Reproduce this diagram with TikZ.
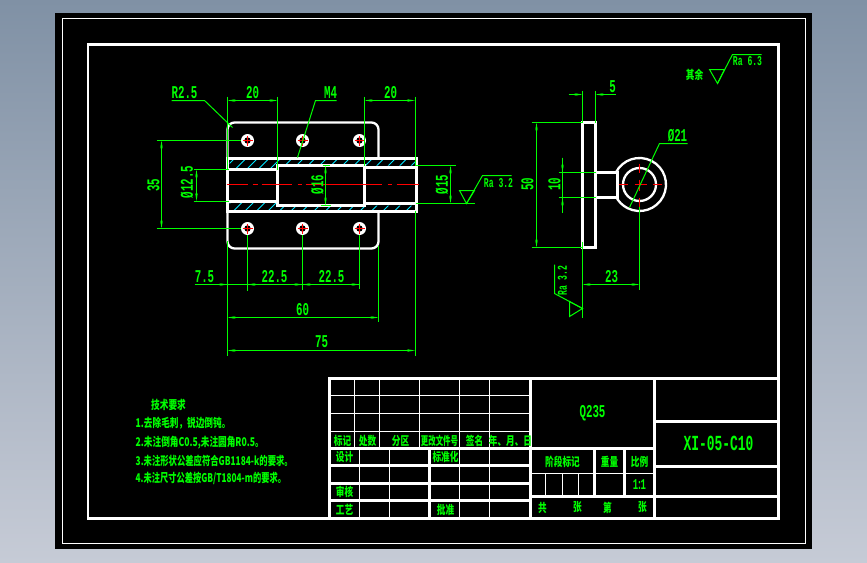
\documentclass[tikz,border=0pt]{standalone}
\usepackage{fontspec}
\usetikzlibrary{arrows.meta}
\newfontfamily\cadfont[FakeStretch=0.6]{Liberation Mono}
\newfontfamily\cjkfont[FakeStretch=0.72]{Noto Sans CJK SC}
\definecolor{cadgreen}{RGB}{0,255,0}
\definecolor{cadcyan}{RGB}{0,230,255}
\definecolor{cadred}{RGB}{255,0,0}
\tikzset{
    partline/.style={draw=white,line width=2.3pt},
    frameline/.style={draw=white,line width=2.8pt},
    thinline/.style={draw=white,line width=1pt},
    dimline/.style={draw=cadgreen,line width=1pt},
    centerline/.style={draw=cadred,line width=1pt},
    hatchline/.style={draw=cadcyan,line width=.8pt},
    dimtext/.style={text=cadgreen,inner sep=0pt,font=\cadfont\bfseries\fontsize{18}{20}\selectfont},
    smalltext/.style={text=cadgreen,inner sep=0pt,font=\cadfont\bfseries\fontsize{13.5}{15}\selectfont},
    cjktext/.style={text=cadgreen,inner sep=0pt,font=\cjkfont\bfseries\fontsize{12}{14}\selectfont},
    notetext/.style={cjktext,anchor=west},
}
\begin{document}
\begin{tikzpicture}[x=1pt,y=-1pt,shift={(.5,.5)},>={Stealth[length=8pt,width=2.6pt]}]
    \useasboundingbox (-.5,-.5) rectangle (866.5,561.5);
    \shade[top color={rgb,255:red,128;green,145;blue,165},bottom color={rgb,255:red,198;green,203;blue,214}] (-.5,-.5) rectangle (866.5,561.5);
    \fill[black] (54.5,12.5) rectangle (811.5,548.5);
    \draw[thinline] (62,18) rectangle (805,543);
    \draw[frameline] (87.5,44) rectangle (778,518);

    \begin{scope}
        \clip (229,159.5) rectangle (415,165) (229,165) rectangle (276,168) (229,202) rectangle (276,209.5) (276,205) rectangle (415,209.5);
        \foreach \x in {222,233.5,...,420}{
            \draw[hatchline] (\x,170)--(\x+11,159);
            \draw[hatchline] (\x,210)--(\x+9,201);
        }
    \end{scope}

    \draw[partline,rounded corners=7pt] (227,158)--(227,122)--(378,122)--(378,158);
    \draw[partline,rounded corners=7pt] (227,211)--(227,248)--(378,248)--(378,211);
    \draw[partline] (227,158)--(416,158)--(416,211)--(227,211)--cycle;
    \draw[partline] (227,169)--(277,169);
    \draw[partline] (227,201)--(277,201);
    \draw[partline] (277,165) rectangle (364,205);
    \draw[partline] (364,167)--(415,167);
    \draw[partline] (364,203)--(415,203);
    \draw[centerline] (226,184)--(247,184) (252,184)--(257,184) (261,184)--(291,184) (297,184)--(301,184) (305,184)--(381,184) (387,184)--(391,184) (396,184)--(418,184);

    \foreach \cx/\cy in {247/140,302/140,359/140,247/228,302/228,359/228}{
        \fill[white] (\cx,\cy) circle (6.5);
        \fill[black] (\cx,\cy) circle (3.2);
        \draw[centerline] (\cx-5,\cy)--(\cx+5,\cy) (\cx,\cy-5)--(\cx,\cy+5);
    }

    \draw[dimline] (227,96)--(227,169) (227,240)--(227,355);
    \draw[dimline] (277,96)--(277,169);
    \draw[dimline] (364,96)--(364,165);
    \draw[dimline] (414.5,96)--(414.5,165) (414.5,210)--(414.5,355);
    \draw[dimline,<->] (227,100)--(277,100);
    \draw[dimline,<->] (364,100)--(414.5,100);
    \node[dimtext] (dimTwentyL) at (252,92) {20};
    \node[dimtext] (dimTwentyR) at (390,92) {20};
    \draw[dimline] (171,100)--(204,100)--(232,127);
    \node[dimtext] (lblRadius) at (184,92) {R2.5};
    \draw[dimline] (336,100)--(315,100)--(297,157);
    \node[dimtext] (lblThread) at (330,92) {M4};

    \draw[dimline] (156,140)--(240,140) (156,228)--(240,228);
    \draw[dimline,<->] (161,140)--(161,228);
    \node[dimtext,rotate=90] (dimThirtyFive) at (153,184.5) {35};
    \draw[dimline] (193,169)--(228,169) (193,200.5)--(228,200.5);
    \draw[dimline,<->] (196,169)--(196,200.5);
    \node[dimtext,rotate=90] (dimBoreL) at (186.5,181.5) {Ø12.5};
    \draw[dimline] (322,165)--(329,165) (320,205)--(330,205);
    \draw[dimline,<->] (325,165)--(325,205);
    \node[dimtext,rotate=90] (dimBoreM) at (317,184) {Ø16};
    \draw[dimline] (415,165)--(455,165) (415,203)--(474,203);
    \draw[dimline,<->] (450,165)--(450,203);
    \node[dimtext,rotate=90] (dimBoreR) at (441.5,184) {Ø15};

    \draw[dimline] (459,190)--(474,190)--(466,203)--cycle;
    \draw[dimline] (466,203)--(482,175)--(511,175);
    \node[smalltext] (lblRoughA) at (498,183) {Ra 3.2};

    \draw[dimline] (247,234)--(247,290) (302,234)--(302,289) (359,234)--(359,288);
    \draw[dimline] (194,284)--(359,284);
    \draw[dimline,->] (205,284)--(227,284);
    \draw[dimline,->] (265,284)--(247,284);
    \draw[dimline,->] (285,284)--(302,284);
    \draw[dimline,->] (320,284)--(302,284);
    \draw[dimline,->] (340,284)--(359,284);
    \node[dimtext] (dimOffset) at (204,276) {7.5};
    \node[dimtext] (dimPitchA) at (274,276) {22.5};
    \node[dimtext] (dimPitchB) at (331,276) {22.5};
    \draw[dimline] (378,245)--(378,321);
    \draw[dimline,<->] (227,317)--(378,317);
    \node[dimtext] (dimSixty) at (302,309) {60};
    \draw[dimline,<->] (227,350)--(414.5,350);
    \node[dimtext] (dimSeventyFive) at (321,341) {75};

    \draw[partline] (582,122) rectangle (595,247);
    \draw[partline] (595,172)--(617,172)--(617,197)--(595,197);
    \draw[partline] (639,184) +(207:26.5) arc (207:513:26.5);
    \draw[partline] (639,184) circle (16.5);
    \draw[centerline] (618,184)--(627,184) (634,184)--(646,184) (652,184)--(661,184);
    \draw[centerline] (639,163)--(639,172) (639,179)--(639,190) (639,197)--(639,206);

    \draw[dimline] (582,90)--(582,122) (595,90)--(595,122);
    \draw[dimline,->] (568,94)--(582,94);
    \draw[dimline,<-] (595,94)--(615,94);
    \node[dimtext] (dimFive) at (612,86) {5};
    \draw[dimline] (531,122)--(582,122) (531,247)--(582,247);
    \draw[dimline,<->] (536,122)--(536,247);
    \node[dimtext,rotate=90] (dimFifty) at (527,184) {50};
    \draw[dimline] (558,172)--(595,172) (558,197)--(595,197);
    \draw[dimline] (562,157)--(562,212);
    \draw[dimline,->] (562,157)--(562,172);
    \draw[dimline,->] (562,212)--(562,197);
    \node[dimtext,rotate=90] (dimTen) at (554,184) {10};
    \draw[dimline] (687,143)--(659,143)--(629,207);
    \node[dimtext] (dimRing) at (677,135) {Ø21};
    \draw[dimline] (639,206)--(639,289) (582,241)--(582,317);
    \draw[dimline,<->] (582,284)--(639,284);
    \node[dimtext] (dimReach) at (611,276) {23};

    \draw[dimline] (582,308)--(569,301)--(569,316)--cycle;
    \draw[dimline] (582,308)--(554,293)--(554,264);
    \node[smalltext,rotate=90] (lblRoughB) at (562,280) {Ra 3.2};

    \draw[dimline] (709,69)--(724,69)--(717,83)--cycle;
    \draw[dimline] (717,83)--(732,54)--(761,54);
    \node[smalltext] (lblRoughC) at (747,61) {Ra 6.3};
    \node[cjktext] (lblOther) at (694,74) {其余};

    \node[cjktext] (noteTitle) at (168,404) {技术要求};
    \node[notetext] (noteOne) at (135,423) {1.去除毛刺，锐边倒钝。};
    \node[notetext] (noteTwo) at (135,442) {2.未注倒角C0.5,未注圆角R0.5。};
    \node[notetext] (noteThree) at (135,460) {\scalebox{.965}[1]{3.未注形状公差应符合GB1184-k的要求。}};
    \node[notetext] (noteFour) at (135,478) {\scalebox{.955}[1]{4.未注尺寸公差按GB/T1804-m的要求。}};

    \draw[frameline] (329,378) rectangle (778,518);
    \foreach \ly in {395,413,431}{
        \draw[thinline] (329,\ly)--(530,\ly);
    }
    \foreach \lx in {354,379,419,459,489}{
        \draw[thinline] (\lx,378)--(\lx,448);
    }
    \foreach \ly in {448,465,483,500}{
        \draw[frameline] (329,\ly)--(530,\ly);
    }
    \foreach \lx in {359,389,459,489}{
        \draw[thinline] (\lx,448)--(\lx,518);
    }
    \draw[frameline] (429,448)--(429,518);
    \draw[frameline] (530,378)--(530,518);
    \draw[frameline] (654,378)--(654,518);
    \draw[frameline] (530,448)--(654,448);
    \draw[frameline] (530,496)--(778,496);
    \draw[frameline] (594,448)--(594,496);
    \draw[frameline] (624,448)--(624,496);
    \draw[thinline] (530,473)--(654,473);
    \foreach \lx in {545,562,578}{
        \draw[thinline] (\lx,473)--(\lx,496);
    }
    \draw[frameline] (654,421)--(778,421);
    \draw[frameline] (654,466)--(778,466);

    \foreach \cx/\cy/\cell/\nm in {342/440/标记/cellA,367/440/处数/cellB,400/440/分区/cellC,474/440/签名/cellE,510/440/年、月、日/cellF,344/456/设计/cellG,445/456/标准化/cellH,344/491/审核/cellI,344/509/工艺/cellJ,445/509/批准/cellK,562/461/阶段标记/cellL,609/461/重量/cellM,639/461/比例/cellN,542/507/共/cellO,577/507/张/cellP,607/507/第/cellQ,642/507/张/cellR}{
        \node[cjktext] (\nm) at (\cx,\cy) {\cell};
    }
    \node[cjktext] (cellD) at (439,440) {\scalebox{.86}[1]{更改文件号}};
    \node[dimtext] (cellMaterial) at (592,413) {Q235};
    \node[dimtext,font=\cadfont\bfseries\fontsize{21.5}{23}\selectfont] (cellDrawing) at (718,443) {XI-05-C10};
    \node[smalltext,font=\cadfont\bfseries\fontsize{15}{17}\selectfont] (cellScale) at (639,484) {1\kern-1.5pt:\kern-1.5pt1};
\end{tikzpicture}
\end{document}
